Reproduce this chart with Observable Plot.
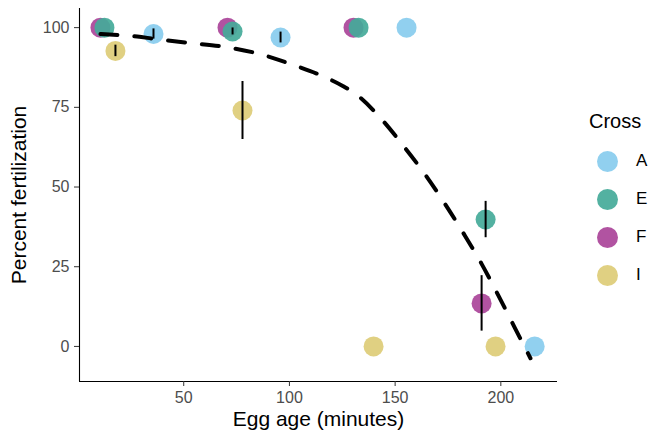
<!DOCTYPE html>
<html>
<head>
<meta charset="utf-8">
<script src="https://cdn.jsdelivr.net/npm/d3@7"></script>
<script src="https://cdn.jsdelivr.net/npm/@observablehq/plot@0.6"></script>
<style>
  body { margin: 0; background: #fff; font-family: "Liberation Sans", Arial, sans-serif; }
  #wrap { position: relative; width: 649px; height: 437px; }
  #legend { position: absolute; left: 589px; top: 110px; font-size: 20px; color: #000; }
  #legend .title { margin-bottom: 9px; }
  #legend .item { display: flex; align-items: center; height: 38px; font-size: 17px; }
  #legend .sw { width: 21px; height: 21px; border-radius: 50%; margin-left: 8px; margin-right: 18px; }
</style>
</head>
<body>
<div id="wrap"><div id="chart"></div><div id="legend"></div></div>
<script>
// Data
const cross   = ["F", "E", "I", "A", "F", "E", "I", "A", "F", "E", "A", "I", "E", "F", "I", "A"];
const eggAge  = [10.6, 12.5, 17.7, 35.7, 70.7, 73.1, 77.8, 95.8, 130.3, 132.7, 155.4, 139.8, 192.8, 190.9, 197.5, 216.0];
const percent = [100, 100, 92.7, 98.0, 100, 98.8, 74.0, 96.9, 100, 100, 100, 0, 39.8, 13.5, 0, 0];
const errHalf = [0, 0, 1.8, 1.6, 0, 1.1, 9.1, 1.7, 0, 0, 0, 0, 5.7, 8.7, 0, 0];

// Fitted dashed curve
const fitAge = [10.6, 28.0, 35.9, 52.4, 69.0, 85.5, 101.3, 117.1, 125.0, 131.3, 143.4, 153.8, 164.0, 173.6, 182.5, 190.9, 198.8, 206.5, 214.0];
const fitPct = [98.0, 97.2, 96.5, 95.2, 94.0, 91.8, 88.4, 84.4, 81.8, 79.2, 71.4, 63.0, 54.1, 44.7, 35.3, 25.9, 16.0, 6.0, -3.7];

const crossLevels = ["A", "E", "F", "I"];
const crossColors = ["#88CCEE", "#44AA99", "#AA4499", "#DDCC77"];
const xTicks = [50, 100, 150, 200];
const yTicks = [0, 25, 50, 75, 100];
const xDomain = [0.7, 226.8];
const yDomain = [-11, 106];

const pts = cross.map((c, i) => ({cross: c, age: eggAge[i], pct: percent[i], err: errHalf[i]}));
const fit = fitAge.map((a, i) => ({age: a, pct: fitPct[i]}));
const colorOf = c => crossColors[crossLevels.indexOf(c)];

const chart = Plot.plot({
  width: 649,
  height: 437,
  marginLeft: 79,
  marginRight: 92,
  marginTop: 8,
  marginBottom: 56,
  style: {fontFamily: "'Liberation Sans', Arial, sans-serif", background: "#fff"},
  x: {domain: xDomain, label: null},
  y: {domain: yDomain, label: null},
  marks: [
    Plot.ruleY([yDomain[0]], {stroke: "#000", strokeWidth: 1.1}),
    Plot.ruleX([xDomain[0]], {stroke: "#000", strokeWidth: 1.1}),
    Plot.axisX({ticks: xTicks, tickSize: 5, tickPadding: 5, fontSize: 16, color: "#4d4d4d", stroke: "#333", label: null}),
    Plot.axisY({ticks: yTicks, tickSize: 5, tickPadding: 5, fontSize: 16, color: "#4d4d4d", stroke: "#333", label: null}),
    Plot.text(["Egg age (minutes)"], {frameAnchor: "bottom", dy: 44, fontSize: 21, fill: "#000"}),
    Plot.text(["Percent fertilization"], {frameAnchor: "left", textAnchor: "middle", dx: -60, rotate: -90, fontSize: 21, fill: "#000"}),
    Plot.dot(pts, {x: "age", y: "pct", r: 10, fill: d => colorOf(d.cross), fillOpacity: 0.92, stroke: "none"}),
    Plot.ruleX(pts.filter(d => d.err > 0), {x: "age", y1: d => d.pct - d.err, y2: d => d.pct + d.err, stroke: "#000", strokeWidth: 2}),
    Plot.line(fit, {x: "age", y: "pct", curve: "monotone-x", stroke: "#000", strokeWidth: 4, strokeDasharray: "17,17"})
  ]
});
document.getElementById("chart").appendChild(chart);

const lg = document.getElementById("legend");
const t = document.createElement("div");
t.className = "title";
t.textContent = "Cross";
lg.appendChild(t);
crossLevels.forEach((c, i) => {
  const it = document.createElement("div");
  it.className = "item";
  const sw = document.createElement("span");
  sw.className = "sw";
  sw.style.background = crossColors[i];
  sw.style.opacity = 0.92;
  const lab = document.createElement("span");
  lab.textContent = c;
  it.appendChild(sw);
  it.appendChild(lab);
  lg.appendChild(it);
});
</script>
</body>
</html>
